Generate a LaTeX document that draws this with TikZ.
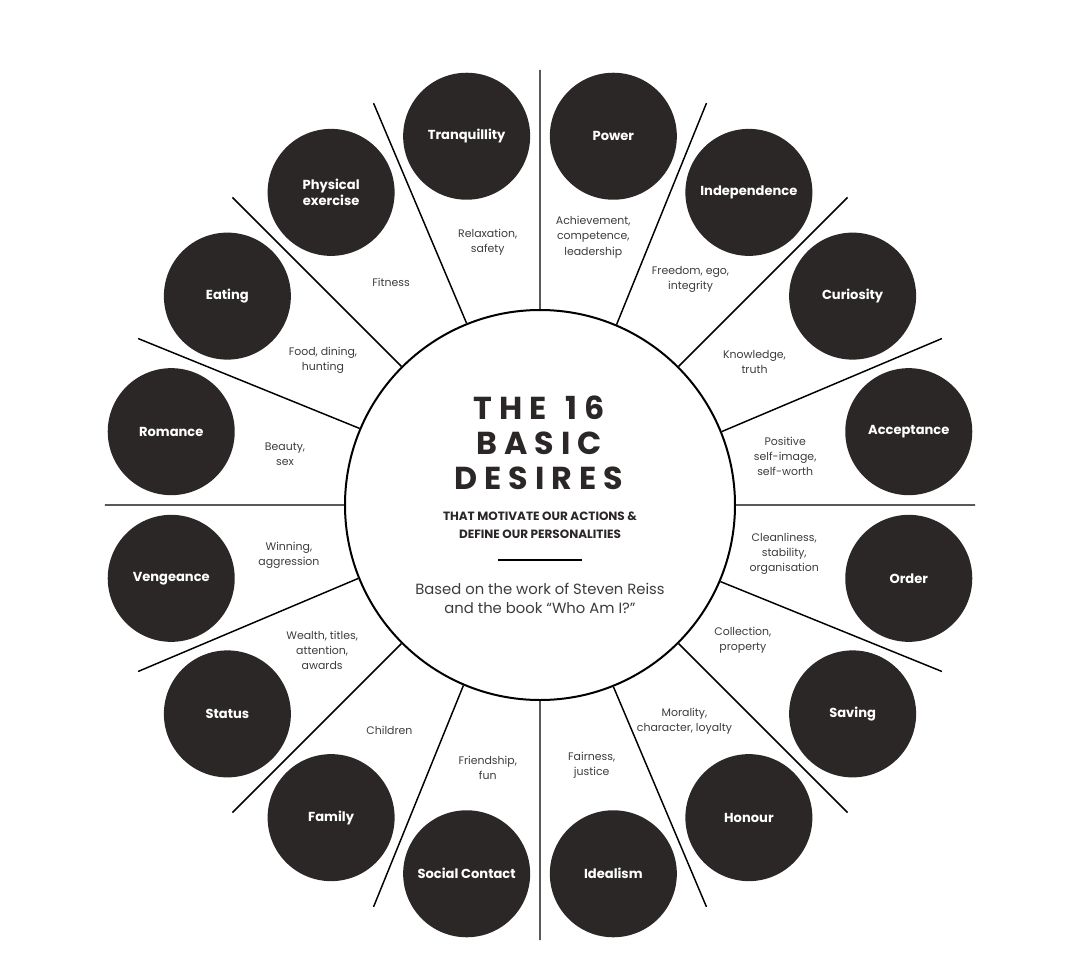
\documentclass[tikz,border=0pt]{standalone}
\usepackage{fontspec}
\setmainfont{Poppins}
\newfontfamily\titlefont{Poppins}[LetterSpace=22]
\usepackage{tikz}
\definecolor{bubble}{HTML}{2B2727}
\definecolor{desctext}{HTML}{3C3C3C}

\begin{document}
\begin{tikzpicture}[
        x=0.75pt, y=0.75pt,
        every node/.append style={align=center}
    ]
    \tikzstyle{bub}=[shape=circle,fill=bubble,text=white,minimum size=95.25pt,inner sep=0pt,font=\bfseries\fontsize{9.8}{11.8}\selectfont];
    \tikzstyle{txt}=[text=desctext,inner sep=0pt,font=\fontsize{8.2}{11.3}\selectfont];
    \tikzstyle{spoke}=[line width=1.1pt];
    \useasboundingbox (-540,-449) rectangle (540,505);
    % hub
    \node[draw,shape=circle,line width=1.5pt,minimum size=292.5pt,inner sep=0pt] (hub) at (0,0) {};
    \node[font=\titlefont\bfseries\fontsize{23.8}{26.25}\selectfont,text=bubble] (title) at (-1,62) {THE\hspace{0.6em}16\\BASIC\\DESIRES};
    \node[font=\bfseries\fontsize{9}{13.5}\selectfont,text=bubble] (sub) at (0,-20) {THAT MOTIVATE OUR ACTIONS \&\\DEFINE OUR PERSONALITIES};
    \coordinate (ruleL) at (-42,-55);
    \coordinate (ruleR) at (42,-55);
    \draw[line width=1.5pt] (ruleL) -- (ruleR);
    \node[font=\fontsize{11.1}{14.3}\selectfont,text=desctext] (based) at (0,-93.5) {Based on the work of Steven Reiss\\and the book ``Who Am I?''};
    % spokes
    \coordinate (s0) at (0:435);
    \coordinate (s1) at (22.5:435);
    \coordinate (s2) at (45:435);
    \coordinate (s3) at (67.5:435);
    \coordinate (s4) at (90:435);
    \coordinate (s5) at (112.5:435);
    \coordinate (s6) at (135:435);
    \coordinate (s7) at (157.5:435);
    \coordinate (s8) at (180:435);
    \coordinate (s9) at (202.5:435);
    \coordinate (s10) at (225:435);
    \coordinate (s11) at (247.5:435);
    \coordinate (s12) at (270:435);
    \coordinate (s13) at (292.5:435);
    \coordinate (s14) at (315:435);
    \coordinate (s15) at (337.5:435);
    \draw[spoke] (hub.0) -- (s0) (hub.22.5) -- (s1) (hub.45) -- (s2) (hub.67.5) -- (s3)
        (hub.90) -- (s4) (hub.112.5) -- (s5) (hub.135) -- (s6) (hub.157.5) -- (s7)
        (hub.180) -- (s8) (hub.202.5) -- (s9) (hub.225) -- (s10) (hub.247.5) -- (s11)
        (hub.270) -- (s12) (hub.292.5) -- (s13) (hub.315) -- (s14) (hub.337.5) -- (s15);
    % right half
    \node[bub] (power) at (78.75:376) {Power};
    \node[txt] (d-power) at (78.75:273) {Achievement,\\competence,\\leadership};
    \node[bub] (indep) at (56.25:376) {Independence};
    \node[txt] (d-indep) at (56.25:271) {Freedom, ego,\\integrity};
    \node[bub] (curio) at (33.75:376) {Curiosity};
    \node[txt] (d-curio) at (33.75:258) {Knowledge,\\truth};
    \node[bub] (accept) at (11.25:376) {Acceptance};
    \node[txt] (d-accept) at (11.25:250) {Positive\\self-image,\\self-worth};
    \node[bub] (order) at (-11.25:376) {Order};
    \node[txt] (d-order) at (-11.25:249) {Cleanliness,\\stability,\\organisation};
    \node[bub] (saving) at (-33.75:376) {Saving};
    \node[txt] (d-saving) at (-33.75:244) {Collection,\\property};
    \node[bub] (honour) at (-56.25:376) {Honour};
    \node[txt] (d-honour) at (-56.25:260) {Morality,\\character, loyalty};
    \node[bub] (ideal) at (-78.75:376) {Idealism};
    \node[txt] (d-ideal) at (-78.75:265) {Fairness,\\justice};
    % left half
    \node[bub] (social) at (-101.25:376) {Social Contact};
    \node[txt] (d-social) at (-101.25:268) {Friendship,\\fun};
    \node[bub] (family) at (-123.75:376) {Family};
    \node[txt] (d-family) at (-123.75:271) {Children};
    \node[bub] (status) at (-146.25:376) {Status};
    \node[txt] (d-status) at (-146.25:262) {Wealth, titles,\\attention,\\awards};
    \node[bub] (venge) at (-168.75:376) {Vengeance};
    \node[txt] (d-venge) at (-168.75:256) {Winning,\\aggression};
    \node[bub] (romance) at (168.75:376) {Romance};
    \node[txt] (d-romance) at (168.75:260) {Beauty,\\sex};
    \node[bub] (eating) at (146.25:376) {Eating};
    \node[txt] (d-eating) at (146.25:261) {Food, dining,\\hunting};
    \node[bub] (phys) at (123.75:376) {Physical\\exercise};
    \node[txt] (d-phys) at (123.75:268) {Fitness};
    \node[bub] (tranq) at (101.25:376) {Tranquillity};
    \node[txt] (d-tranq) at (101.25:268) {Relaxation,\\safety};
\end{tikzpicture}
\end{document}
